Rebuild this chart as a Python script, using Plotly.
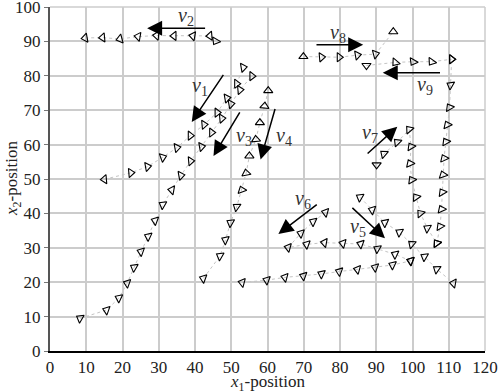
import plotly.graph_objects as go

# ---- data: trajectories (x1, x2 positions and heading angle in degrees, clockwise from up) ----
row_v2_x = [9.7, 14.5, 19.3, 24.3, 29.4, 34.2, 39.4, 44.1, 45.7]
row_v2_y = [91.0, 91.1, 90.7, 91.4, 91.7, 91.6, 91.6, 91.6, 90.1]
row_v2_a = [-100, -95, -105, -80, -85, -90, -80, -95, -150]

diag1_x = [15.0, 22.3, 26.9, 31.1, 35.0, 38.7, 42.5, 46.1, 48.8, 51.5, 53.3]
diag1_y = [49.9, 51.8, 53.6, 56.3, 59.1, 62.6, 65.8, 69.3, 73.5, 77.7, 82.4]
diag1_a = [-95, 85, 80, 70, 80, 90, 85, 90, 80, 90, 80]

diag2_x = [8.3, 15.6, 19.0, 21.3, 23.2, 25.1, 27.1, 29.0, 31.1, 33.6, 36.1, 38.8, 41.8, 44.6, 47.4, 49.9, 52.4, 55.7]
diag2_y = [9.5, 11.9, 15.4, 19.7, 24.3, 28.9, 33.3, 37.9, 42.5, 46.8, 51.0, 55.2, 59.4, 63.5, 67.6, 71.8, 75.9, 79.9]
diag2_a = [-60, -70, -65, -70, -60, -70, -65, -70, -60, -80, 80, 85, 80, 90, 85, 80, 85, 90]

colC_x = [42.3, 46.9, 48.4, 49.8, 51.5, 52.9, 54.1, 55.0, 56.8, 57.9, 59.2, 60.2]
colC_y = [21.1, 27.6, 32.3, 37.3, 41.9, 46.8, 51.7, 56.7, 61.5, 66.4, 71.2, 75.7]
colC_a = [-70, -60, -65, -60, -55, -20, -10, 0, -5, 0, 5, 0]

row_v8_x = [69.9, 74.9, 79.8, 84.8, 89.8, 94.7]
row_v8_y = [85.6, 85.4, 85.4, 86.0, 86.3, 92.8]
row_v8_a = [0, 85, 90, 80, 75, 0]

row_v9_x = [87.3, 95.3, 100.2, 105.3, 110.8]
row_v9_y = [83.0, 83.9, 84.1, 84.1, 84.8]
row_v9_a = [180, -140, -150, -145, 90]

colR_x = [106.7, 107.6, 108.0, 108.2, 108.4, 108.7, 109.2, 109.6, 110.2, 110.5, 110.8]
colR_y = [31.3, 36.2, 41.2, 46.1, 51.2, 56.0, 60.8, 65.7, 70.8, 77.3, 84.8]
colR_a = [-35, -30, -25, -30, -20, -25, -30, -25, -30, -60, 90]

diag_v7_x = [90.1, 92.1, 95.8, 99.1, 99.6, 99.3, 99.8, 101.0, 102.2, 104.1, 106.7]
diag_v7_y = [54.1, 57.3, 60.7, 64.4, 59.4, 54.5, 49.7, 44.7, 40.0, 35.7, 31.3]
diag_v7_a = [180, -50, -45, -40, -30, -25, -30, -35, -40, -60, -35]

diag_v5_x = [85.5, 88.9, 92.4, 96.4, 99.8, 103.3, 106.7, 111.3]
diag_v5_y = [44.7, 41.0, 37.3, 34.5, 31.1, 27.4, 23.8, 19.7]
diag_v5_a = [-60, -70, -65, -60, -50, -60, -55, -80]

row_v6_x = [76.0, 72.6, 69.2, 65.7, 70.8, 75.7, 80.8, 85.7, 90.3, 95.2, 99.5]
row_v6_y = [40.3, 37.6, 34.2, 30.1, 31.0, 31.5, 31.3, 31.1, 29.7, 28.1, 26.2]
row_v6_a = [-75, -65, -70, -75, -70, -80, -75, -70, -60, -65, -70]

row_low_x = [53.0, 59.8, 64.8, 69.9, 74.9, 79.8, 84.8, 89.7, 94.5, 99.5]
row_low_y = [19.9, 20.6, 21.4, 21.8, 22.4, 23.1, 23.7, 24.3, 25.0, 26.2]
row_low_a = [-75, -70, -75, -70, -65, -70, -75, -70, -65, -70]

# ---- data: group velocity arrows (tail -> head) ----
arrow_names = ["1", "2", "3", "4", "5", "6", "7", "8", "9"]
arrow_tail_x = [48.1, 43.2, 52.6, 62.2, 83.0, 74.0, 87.2, 73.1, 108.0]
arrow_tail_y = [80.7, 93.8, 69.8, 70.8, 42.0, 42.9, 57.0, 89.0, 80.9]
arrow_head_x = [39.1, 26.8, 45.1, 58.1, 92.4, 63.0, 95.8, 86.4, 91.8]
arrow_head_y = [66.6, 93.8, 56.7, 55.7, 32.8, 34.0, 65.2, 89.0, 80.9]
label_x = [41.4, 37.6, 53.5, 64.6, 85.0, 69.9, 88.3, 79.4, 103.4]
label_y = [76.8, 97.3, 62.5, 62.3, 36.0, 43.9, 63.3, 92.4, 77.3]

x_ticks = list(range(0, 121, 10))
y_ticks = list(range(0, 101, 10))

SERIF = "Liberation Serif"

fig = go.Figure()

paths = [
    (row_v2_x, row_v2_y, row_v2_a),
    (diag1_x, diag1_y, diag1_a),
    (diag2_x, diag2_y, diag2_a),
    (colC_x, colC_y, colC_a),
    (row_v8_x, row_v8_y, row_v8_a),
    (row_v9_x, row_v9_y, row_v9_a),
    (colR_x, colR_y, colR_a),
    (diag_v7_x, diag_v7_y, diag_v7_a),
    (diag_v5_x, diag_v5_y, diag_v5_a),
    (row_v6_x, row_v6_y, row_v6_a),
    (row_low_x, row_low_y, row_low_a),
]

for px, py, pa in paths:
    fig.add_trace(go.Scatter(
        x=px, y=py, mode="lines+markers",
        line=dict(color="#c4c4c4", width=1, dash="dot"),
        marker=dict(symbol="triangle-up-open", size=8, angle=pa,
                    color="black", line=dict(color="black", width=1.1)),
        showlegend=False, hoverinfo="skip",
    ))

annotations = []
for i, n in enumerate(arrow_names):
    annotations.append(dict(
        x=arrow_head_x[i], y=arrow_head_y[i], ax=arrow_tail_x[i], ay=arrow_tail_y[i],
        xref="x", yref="y", axref="x", ayref="y",
        showarrow=True, arrowhead=2, arrowsize=2.0, arrowwidth=1.5,
        arrowcolor="black", standoff=0, text="",
    ))
    annotations.append(dict(
        x=label_x[i], y=label_y[i], xref="x", yref="y", showarrow=False,
        text="<i>v</i><sub>%s</sub>" % n,
        font=dict(family=SERIF, size=20, color="#333333"),
    ))

# axis titles
annotations.append(dict(
    x=0.5, y=0, xref="paper", yref="paper", yanchor="middle", xanchor="center",
    yshift=-32, showarrow=False,
    text="<i>x</i><sub>1</sub>-position", font=dict(family=SERIF, size=17, color="#222222"),
))
annotations.append(dict(
    x=0, y=0.5, xref="paper", yref="paper", yanchor="middle", xanchor="center",
    xshift=-37, showarrow=False, textangle=-90,
    text="<i>x</i><sub>2</sub>-position", font=dict(family=SERIF, size=17, color="#222222"),
))

fig.update_layout(
    width=499, height=392,
    margin=dict(l=50, r=14, t=7, b=41),
    paper_bgcolor="white", plot_bgcolor="white",
    font=dict(family=SERIF, size=17, color="#222222"),
    annotations=annotations,
    xaxis=dict(
        range=[0, 120], tickvals=x_ticks, ticktext=[str(v) for v in x_ticks],
        showgrid=True, gridcolor="#cccccc", gridwidth=1.5,
        showline=True, linecolor="black", linewidth=1.5,
        zeroline=False, ticks="", ticklen=0, automargin=False,
        ticklabeloverflow="allow",
        tickfont=dict(family=SERIF, size=17, color="#222222"),
    ),
    yaxis=dict(
        range=[0, 100], tickvals=y_ticks, ticktext=[str(v) for v in y_ticks],
        showgrid=True, gridcolor="#cccccc", gridwidth=1.5,
        showline=True, linecolor="#555555", linewidth=2,
        zeroline=False, ticks="outside", ticklen=4, tickcolor="#777777",
        automargin=False, ticklabeloverflow="allow",
        tickfont=dict(family=SERIF, size=17, color="#222222"),
    ),
    shapes=[
        dict(type="line", xref="paper", yref="paper", x0=0, x1=1, y0=1, y1=1,
             line=dict(color="#cccccc", width=1.5)),
        dict(type="line", xref="paper", yref="paper", x0=1, x1=1, y0=0, y1=1,
             line=dict(color="#cccccc", width=1.5)),
    ],
)

fig.write_html(
    "out.html",
    config={"displayModeBar": False},
    post_script="document.body.style.margin='0';document.body.style.padding='0';",
)
